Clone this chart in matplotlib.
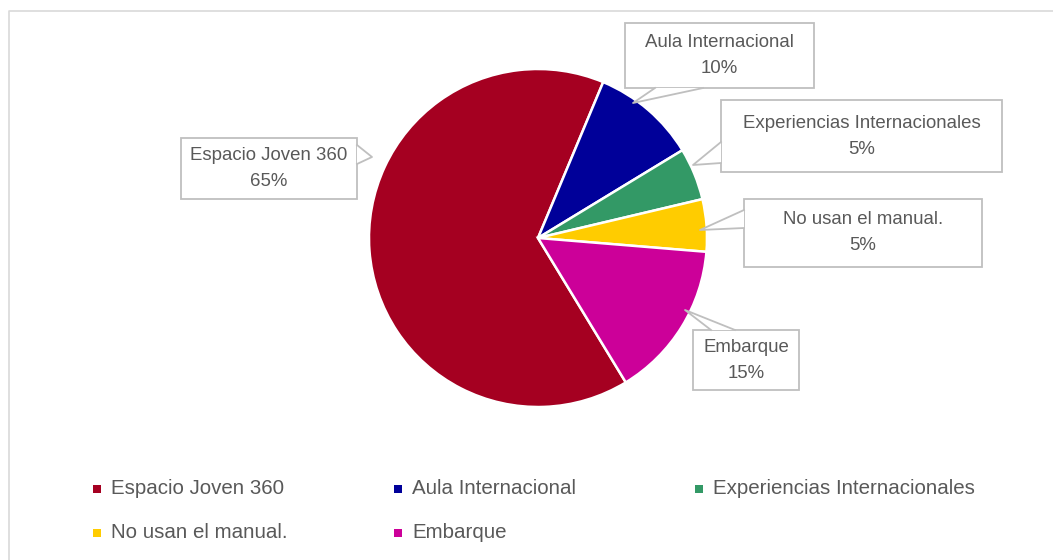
import numpy as np
import matplotlib.pyplot as plt
from matplotlib.patches import Rectangle, Polygon

plt.rcParams['font.family'] = ['Liberation Sans', 'DejaVu Sans']

categories = ['Espacio Joven 360', 'Aula Internacional', 'Experiencias Internacionales',
              'No usan el manual.', 'Embarque']
values = [65, 10, 5, 5, 15]
colors = ['#A50021', '#000099', '#339966', '#FFCC00', '#CC0099']

W, H = 1053, 560

# callout layout in pixel coords: box (x0, y0, x1, y1), pointer base points and tip
callouts = [
    ((181, 138, 357, 199), [(357, 145), (357, 164)], (372, 157)),
    ((625, 23, 814, 88), [(655, 88), (703, 88)], (633, 103)),
    ((721, 100, 1002, 172), [(721, 142), (721, 163)], (693, 165)),
    ((744, 199, 982, 267), [(744, 210), (744, 228)], (700, 230)),
    ((693, 330, 799, 390), [(711, 330), (735, 330)], (685, 310)),
]


def Y(py):
    return H - py


fig = plt.figure(figsize=(W / 100, H / 100), dpi=100)
ax = fig.add_axes([0, 0, 1, 1])
ax.set_xlim(0, W)
ax.set_ylim(0, H)
ax.axis('off')

# light chart frame
ax.plot([9, 9, W + 5], [Y(H + 5), Y(11), Y(11)], color='#D9D9D9', lw=1.2)

ax.pie(values, colors=colors, center=(538, Y(238)), radius=169,
       startangle=-58.7, counterclock=False,
       wedgeprops=dict(edgecolor='white', linewidth=1.8))
ax.set_xlim(0, W)
ax.set_ylim(0, H)
ax.set_aspect('equal')

total = sum(values)
for cat, val, (box, base, tip) in zip(categories, values, callouts):
    x0, y0, x1, y1 = box
    ax.add_patch(Rectangle((x0, Y(y1)), x1 - x0, y1 - y0, facecolor='white',
                           edgecolor='#BFBFBF', lw=1.3, zorder=5))
    pts = [(base[0][0], Y(base[0][1])), (tip[0], Y(tip[1])), (base[1][0], Y(base[1][1]))]
    ax.add_patch(Polygon(pts, closed=True, facecolor='white', edgecolor='none', zorder=6))
    ax.plot([p[0] for p in pts], [p[1] for p in pts], color='#BFBFBF', lw=1.3, zorder=7)
    cx = (x0 + x1) / 2
    cy = (y0 + y1) / 2
    ax.text(cx, Y(cy - 13), cat, ha='center', va='center', fontsize=13.4,
            color='#595959', zorder=8)
    ax.text(cx, Y(cy + 13), f'{val / total:.0%}', ha='center', va='center',
            fontsize=13.4, color='#595959', zorder=8)

# legend
for i, (cat, col) in enumerate(zip(categories, colors)):
    lx = 97 + 301 * (i % 3)
    ly = 489 + 44 * (i // 3)
    ax.add_patch(Rectangle((lx - 4, Y(ly + 4)), 8, 8, facecolor=col, edgecolor='none'))
    ax.text(lx + 14, Y(ly), cat, ha='left', va='center', fontsize=14.8, color='#595959')

fig.savefig('out.png', dpi=100)
